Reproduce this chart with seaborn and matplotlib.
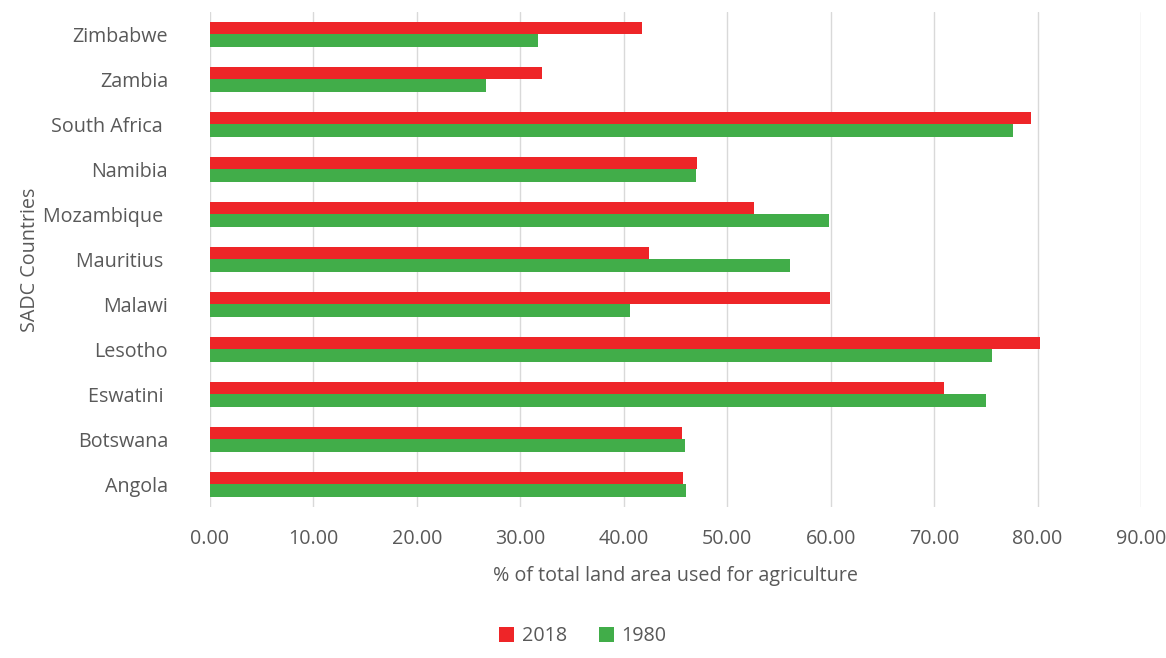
import numpy as np
import pandas as pd
import seaborn as sns
import matplotlib.pyplot as plt

# data
countries = ["Zimbabwe", "Zambia", "South Africa ", "Namibia", "Mozambique ",
             "Mauritius ", "Malawi", "Lesotho", "Eswatini ", "Botswana", "Angola"]
vals_2018 = [41.8, 32.1, 79.4, 47.1, 52.6, 42.4, 59.9, 80.2, 71.0, 45.6, 45.7]
vals_1980 = [31.7, 26.7, 77.6, 47.0, 59.8, 56.1, 40.6, 75.6, 75.0, 45.9, 46.0]
years = ["2018", "1980"]
xticks = np.arange(0, 91, 10)

df = pd.DataFrame({
    "country": countries * 2,
    "year": [years[0]] * len(countries) + [years[1]] * len(countries),
    "value": vals_2018 + vals_1980,
})

sns.set_style("white")
plt.rcParams["font.family"] = ["Open Sans", "DejaVu Sans"]
txt = "#595959"
fs = 14.2

fig = plt.figure(figsize=(11.66, 6.58), dpi=100)
ax = fig.add_axes([0.180, 0.2295, 0.7986, 0.7523])

sns.barplot(data=df, y="country", x="value", hue="year", order=countries,
            hue_order=years, palette={"2018": "#EE2528", "1980": "#41AD49"},
            orient="h", width=0.56, saturation=1, linewidth=0, ax=ax,
            legend=True)

ax.set_xlim(0, 90)
ax.set_xticks(xticks)
ax.set_xticklabels([f"{v:.2f}" for v in xticks])
ax.grid(axis="x", color="#d9d9d9", linewidth=1)
ax.set_axisbelow(True)
for s in ax.spines.values():
    s.set_visible(False)
ax.tick_params(axis="both", length=0, labelsize=fs, colors=txt)
ax.tick_params(axis="x", pad=16)
ax.tick_params(axis="y", pad=30)
ax.set_xlabel("% of total land area used for agriculture", fontsize=fs,
              color=txt, labelpad=12)
ax.set_ylabel("SADC Countries", fontsize=fs, color=txt, labelpad=2)

handles, labels = ax.get_legend_handles_labels()
ax.get_legend().remove()
fig.legend(handles, labels, loc="lower center", ncol=2, frameon=False,
           fontsize=fs, labelcolor=txt, handlelength=0.75, handleheight=0.75,
           handletextpad=0.4, columnspacing=1.6, borderaxespad=0.2,
           bbox_to_anchor=(0.5, 0.0))

fig.savefig("out.png", dpi=100)
